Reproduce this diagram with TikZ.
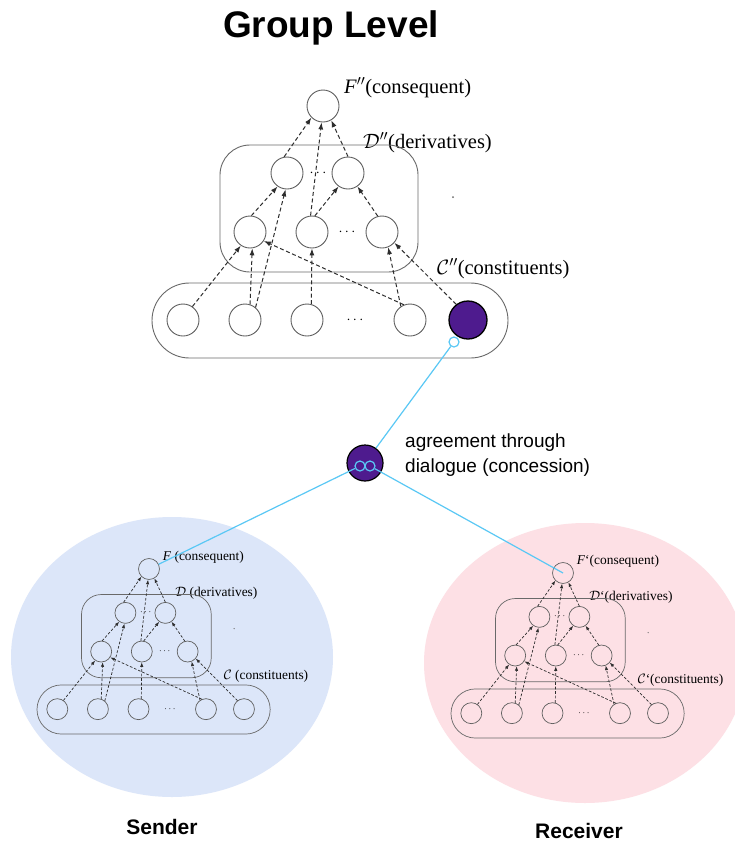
\documentclass[tikz,border=0pt]{standalone}
\usepackage{fontspec}
\setmainfont{Liberation Serif}
\setsansfont{Liberation Sans}
\usetikzlibrary{arrows.meta}
\definecolor{pur}{RGB}{78,27,142}
\definecolor{cyanl}{RGB}{90,200,245}
\definecolor{sblue}{RGB}{220,230,249}
\definecolor{rpink}{RGB}{253,224,229}
\definecolor{ndgray}{RGB}{95,95,95}
\definecolor{bxgray}{RGB}{105,105,105}
\definecolor{argray}{RGB}{45,45,45}
\tikzset{
  bigtree/.style={
    nd/.style={circle, draw=ndgray, line width=0.9pt, minimum size=32pt, inner sep=0pt},
    bx/.style={draw=bxgray, line width=0.9pt},
    arr/.style={draw=argray, line width=1pt, dash pattern=on 4pt off 2.6pt, -{Latex[length=7pt,width=5pt]}},
    rc/.style={rounded corners=30pt},
    rp/.style={rounded corners=37.5pt}
  },
  smalltree/.style={
    nd/.style={circle, draw=ndgray, line width=0.7pt, minimum size=32pt, inner sep=0pt},
    bx/.style={draw=bxgray, line width=0.7pt},
    arr/.style={draw=argray, line width=0.7pt, dash pattern=on 2.7pt off 1.8pt, -{Latex[length=4.6pt,width=3.3pt]}},
    rc/.style={rounded corners=19.6pt},
    rp/.style={rounded corners=24.5pt}
  },
  pnd/.style={circle, draw=black, fill=pur, line width=1.3pt, minimum size=38pt, inner sep=0pt},
  lbl/.style={anchor=base west, inner sep=0pt, font=\fontsize{20.5}{24}\selectfont},
  dts/.style={inner sep=0pt, font=\fontsize{15}{18}\selectfont},
  sdot/.style={circle, fill=bxgray, minimum size=2pt, inner sep=0pt},
  cl/.style={draw=cyanl, line width=1.2pt},
  cring/.style={circle, draw=cyanl, line width=1.2pt, minimum size=10pt, inner sep=0pt},
  sans/.style={font=\sffamily\fontsize{19}{25}\selectfont},
  who/.style={anchor=base, inner sep=0pt, font=\sffamily\bfseries\fontsize{21}{25}\selectfont}
}
% #1 prefix, #2 origin, #3 scale, #4 tree style, #5 last node style, #6 F label, #7 D label, #8 C label
\newcommand\drawtree[8]{%
\begin{scope}[shift={#2}, scale=#3, transform shape, #4]
  \node[nd] (#1F) at (0,0) {};
  \node[nd] (#1u1) at (-36,67) {};
  \node[nd] (#1u2) at (25,67) {};
  \node[nd] (#1l1) at (-73,126) {};
  \node[nd] (#1l2) at (-11,126) {};
  \node[nd] (#1l3) at (59,126) {};
  \node[nd] (#1c1) at (-140,214) {};
  \node[nd] (#1c2) at (-78,214) {};
  \node[nd] (#1c3) at (-16,214) {};
  \node[nd] (#1c4) at (87,214) {};
  \node[#5] (#1c5) at (145,214) {};
  \node[dts] (#1d1) at (-5,67) {$\cdots$};
  \node[dts] (#1d2) at (24,126) {$\cdots$};
  \node[dts] (#1d3) at (32,214) {$\cdots$};
  \node[lbl] (#1Fl) at (21,-13) {#6};
  \node[lbl] (#1Dl) at (40,42) {#7};
  \node[lbl] (#1Cl) at (114,168) {#8};
  \node[sdot] (#1dot) at (130,91) {};
  \draw[bx, rc] (-103,39) rectangle (95,166);
  \draw[bx, rp] (-171,177) rectangle (185,252);
  \draw[arr] (#1c1.55) -- (#1l1.-124);
  \draw[arr] (#1c2.72) -- (#1l1.-82);
  \draw[arr] (#1c4.112) -- (#1l1.-33);
  \draw[arr] (#1c2.50) -- (#1u1.-95);
  \draw[arr] (#1c3.75) -- (#1l2.-90);
  \draw[arr] (#1c4.124) -- (#1l3.-68);
  \draw[arr] (#1c5.127) -- (#1l3.-41);
  \draw[arr] (#1l1.85) -- (#1u1.235);
  \draw[arr] (#1l2.80) -- (#1u2.235);
  \draw[arr] (#1l3.105) -- (#1u2.-55);
  \draw[arr] (#1u1.100) -- (#1F.225);
  \draw[arr] (#1l2.95) -- (#1F.265);
  \draw[arr] (#1u2.90) -- (#1F.300);
\end{scope}}
\begin{document}
\begin{tikzpicture}[x=1pt, y=-1pt]
  \path[use as bounding box] (0,0) rectangle (735,844);
  \clip (0,0) rectangle (735,844);
  \fill[white] (0,0) rectangle (735,844);
  % background ellipses
  \fill[sblue] (172,657) ellipse [x radius=161pt, y radius=140pt];
  \fill[rpink] (585,663) ellipse [x radius=161pt, y radius=140pt];
  % title
  \node[anchor=base, inner sep=0pt, font=\sffamily\bfseries\fontsize{37}{42}\selectfont] (title) at (331,37) {Group Level};
  % trees
  \drawtree{t}{(323,106)}{1}{bigtree}{pnd}
    {\textit{F}$^{\prime\prime}$(consequent)}{$\mathcal{D}^{\prime\prime}$(derivatives)}{$\mathcal{C}^{\prime\prime}$(constituents)}
  \drawtree{s}{(149,569)}{0.655}{smalltree}{nd}
    {\textit{F} (consequent)}{$\mathcal{D}$ (derivatives)}{$\mathcal{C}$ (constituents)}
  \drawtree{r}{(563,573)}{0.655}{smalltree}{nd}
    {\textit{F}‘(consequent)}{$\mathcal{D}$‘(derivatives)}{$\mathcal{C}$‘(constituents)}
  % agreement
  \node[cring, fill=white] (tlink) at (454,342) {};
  \node[circle, draw=black, fill=pur, line width=1.2pt, minimum size=36pt, inner sep=0pt] (agree) at (365,463) {};
  \draw[cl] (tlink) -- (agree);
  \node[cring] (il) at (360,466) {};
  \node[cring] (ir) at (370,466) {};
  \draw[cl] (il) -- (sF);
  \draw[cl] (ir) -- (rF.center);
  \node[sans, anchor=north west, align=left, inner sep=0pt] (agtxt) at (405,433.5) {agreement through\\dialogue (concession)};
  \node[who] (sender) at (162,834) {Sender};
  \node[who] (receiver) at (579,838) {Receiver};
\end{tikzpicture}
\end{document}
